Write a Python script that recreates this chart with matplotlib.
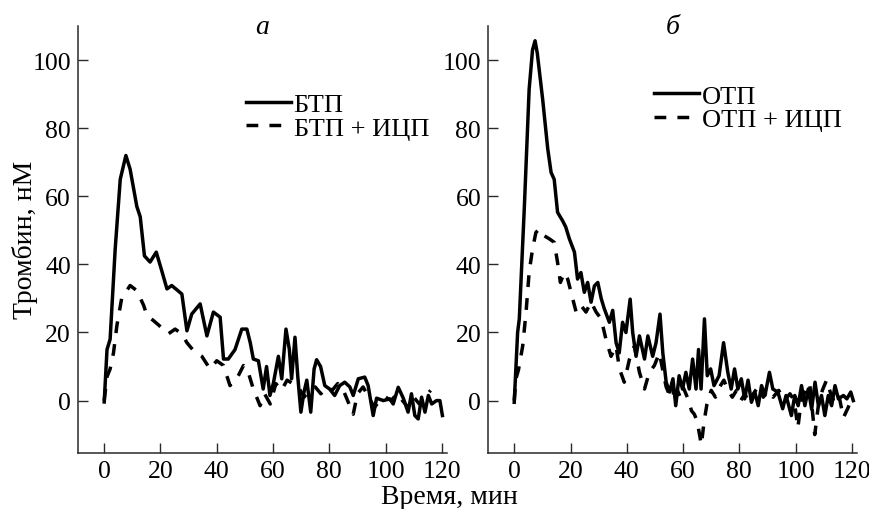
# %% IMPORTS
import matplotlib
matplotlib.use("Agg")
import matplotlib.pyplot as plt

# %% DATA
# panel a: БТП / БТП + ИЦП
A_SOLID_T = [0, 1, 2.1, 3.9, 5.7, 7.7, 9.2, 11.6, 12.8, 14.3, 16.3, 18.5, 20.5, 22.3, 24,
             27.6, 29.4, 31.1, 34.1, 36.5, 38.8, 41.2, 42.4, 44.1, 46.5, 48.9, 50.7, 51.9,
             53, 54.8, 56.5, 57.7, 58.9, 60.1, 61.9, 63.1, 64.6, 65.8, 66.6, 67.8, 68.8,
             69.9, 71, 72, 73.4, 74.6, 75.5, 76.9, 78.4, 80.1, 81.9, 83.7, 85.5, 87.3,
             88.5, 90.3, 92.6, 93.8, 95.6, 96.8, 99.2, 101.5, 102.7, 104.5, 106.3, 108,
             109.2, 110.4, 111.6, 112.8, 114, 115.2, 116.4, 118.1, 119.3, 120.2]
A_SOLID_V = [-0.4, 15, 18, 44.5, 65, 72, 68, 57, 54, 42.5, 40.7, 43.6, 38, 32.8, 33.8,
             31.3, 20.5, 25.4, 28.4, 19, 26, 24.5, 12.2, 12.2, 15, 21, 21, 17,
             12.2, 11.7, 3.4, 10, 1.5, 5, 13, 6.4, 21, 15, 6.4, 18.6, 7,
             -3.4, 2.5, 6, -3.4, 9.3, 12, 10, 4.4, 3.4, 1.5, 4.4, 5.4, 4,
             1.5, 6.4, 6.9, 4.4, -4.4, 0.7, 0, 0.5, -1, 3.9, 0.7, -3.4,
             2, -4.4, -5.4, 1, -3.4, 1.5, -1, 0, 0, -4.4]
A_DASH_T = [0, 1, 2.1, 3.3, 4.5, 6.2, 9.2, 11.6, 14, 15.2, 17.5, 21, 22.8, 25.2, 27.6,
            29.4, 31.7, 34.7, 37.6, 40, 42.4, 44.7, 47.1, 49.5, 51.2, 53, 55.4, 57, 59,
            61, 63, 65, 67, 69, 71, 73, 75, 77, 79, 81, 83, 85, 87, 88.5, 90, 92, 94,
            96, 98, 100, 102, 104, 106, 108, 110, 112, 114, 116]
A_DASH_V = [0, 7, 9.3, 14, 22, 30, 33.8, 32.3, 28, 25, 23.5, 21, 19.6, 21, 19.6,
            17, 14.7, 13, 9.3, 11.7, 10.3, 4.4, 6.4, 10.3, 8.3, 3.4, -1.5, 2, -1,
            5, 3, 6, 5, 4, 1, 3, 4, 2, 4, 3, 5, 3, -1, -4, 2, 4, 1,
            -2, 0, 1, 0, 2, 0, -2, 1, -1, 1, 3]

# panel б: ОТП / ОТП + ИЦП
B_SOLID_T = [0, 1.2, 1.8, 3.6, 5.3, 6.5, 7.4, 8.2, 10.1, 11.9, 13.1, 14.2, 15.4, 17.2,
             18.3, 19.6, 21.4, 22.5, 23.7, 24.9, 26.1, 27.3, 28.5, 29.7, 30.9, 32, 33.8,
             35, 36.2, 37.3, 38.5, 39.7, 41.2, 42.1, 43.3, 44.5, 46.3, 47.5, 49.2, 50.4,
             51.8, 52.8, 54, 55.2, 56.4, 57.4, 58.6, 59.8, 61, 62.2, 63.4, 64.6, 65.5,
             66.4, 67.6, 68.6, 69.8, 71, 72.8, 74.4, 75.9, 77.1, 78.3, 79.5, 80.7, 81.9,
             83.1, 84.3, 85.5, 86.7, 87.9, 89.1, 90.7, 91.9, 93.7, 95.4, 96.6, 98.5,
             99.7, 100.9, 102.1, 103.3, 104.5, 105.7, 106.9, 108.1, 109.2, 110.4,
             111.6, 112.8, 114, 115.2, 117, 118.2, 119.6, 120.5]
B_SOLID_V = [-0.5, 20, 24, 57, 91.5, 103, 105.7, 102, 88.5, 74, 67, 65, 55.3, 52.8,
             51, 47.5, 43.6, 35.7, 37.6, 31.8, 34.7, 28.9, 33.7, 34.7, 30, 27, 23,
             26.5, 17, 14, 23, 20, 29.8, 20, 13, 19, 12.2, 19, 13, 17,
             25.4, 14, 5.4, 2.5, 6.4, -1.5, 7.3, 3.4, 8.3, 3.4, 12.2, 3.4, 15,
             3.4, 24, 7.3, 9.3, 4.4, 7.3, 17, 8.3, 3.4, 9.3, 3.4, 6.4, 0.5,
             6, -0.5, 2.5, -1.5, 4.4, 1.5, 8.3, 3.4, 2.5, -2.4, 1.5, -4.4,
             1.5, -1.5, 4.4, -1.5, 3.4, -2.5, 5.4, -1.5, 1.5, -4.4,
             1.5, -1.5, 4.4, 0.5, 1.5, 0.5, 2.5, 0]
B_DASH_T = [0, 0.6, 1.5, 3, 4.2, 5.3, 6.5, 7.7, 8.9, 10.7, 12.5, 14.2, 15.4, 16.4, 17.8,
            19, 20.2, 22, 23.7, 25.5, 27.3, 29.1, 30.9, 32.6, 34.4, 36.2, 37.4, 39.1,
            40.9, 42.7, 44.5, 46.3, 48, 49.8, 51.6, 53, 54, 55, 56, 57, 58, 59, 60, 61,
            62, 63, 64, 65, 66.5, 67.5, 68.5, 70, 71.5, 73, 74.5, 76, 77.5, 79, 80.5,
            82, 83.5, 85, 87, 88.5, 90, 92, 94, 96, 98, 99.5, 100.8, 102, 103.5, 105,
            106.8, 108, 109.5, 111, 112.5, 114, 115.5, 117, 118.7, 120]
B_DASH_V = [0, 6.4, 9, 16, 26, 37.7, 44.5, 49.4, 50.4, 48.4, 47.5, 46.5, 40.6, 34.7, 37.6,
            35.7, 31.8, 26, 28, 26, 29, 26, 24, 18, 13, 16, 9.3, 5.4,
            12, 16, 8.3, 3.4, 8.3, 10.3, 14, 8, 4, 2, 5, 0, 3, 1, 4, 2,
            0, -3, -4, -6, -13, -6, -1, 3, 1, 4, 6, 3, 1, 3, 0,
            2, -1, 2, 4.5, 1, 3, 1, 3, 0, 2, 0, -8, 0, 3, 5,
            -10, -2, 3, 6, 2, -1, 1, -5, -2, 1]

PANEL_TITLES = ["а", "б"]
LEGEND_LABELS = [["БТП", "БТП + ИЦП"], ["ОТП", "ОТП + ИЦП"]]
X_TICKS = [0, 20, 40, 60, 80, 100, 120]
Y_TICKS = [0, 20, 40, 60, 80, 100]

# %% STYLE
plt.rcParams["font.family"] = ["Liberation Serif", "DejaVu Serif"]
FS_TICK = 18.5
FS_LABEL = 20
FS_LEGEND = 19
LW = 2.5
DASH = (0, (3.4, 3.2))
SPINE_COLOR = "#2a2a2a"

# %% FIGURE
fig = plt.figure(figsize=(8.7, 5.1), dpi=100)
axes = [fig.add_axes([0.0897, 0.1098, 0.424, 0.837]),
        fig.add_axes([0.561, 0.1098, 0.424, 0.837])]

series = [(A_SOLID_T, A_SOLID_V, A_DASH_T, A_DASH_V),
          (B_SOLID_T, B_SOLID_V, B_DASH_T, B_DASH_V)]
legend_anchor = [(0.42, 0.875), (0.415, 0.895)]

for i, ax in enumerate(axes):
    st, sv, dt, dv = series[i]
    ax.plot(st, sv, color="black", lw=LW, solid_joinstyle="round", label=LEGEND_LABELS[i][0])
    ax.plot(dt, dv, color="black", lw=LW, linestyle=DASH, label=LEGEND_LABELS[i][1])

    ax.set_xlim(-9.3, 121.8)
    ax.set_ylim(-15.4, 110)
    ax.set_xticks(X_TICKS)
    ax.set_yticks(Y_TICKS)
    ax.tick_params(direction="in", length=7, width=1, labelsize=FS_TICK, color=SPINE_COLOR, pad=5)
    for side in ["top", "right"]:
        ax.spines[side].set_visible(False)
    for side in ["left", "bottom"]:
        ax.spines[side].set_color(SPINE_COLOR)
        ax.spines[side].set_linewidth(1.1)

    ax.text(0.5, 1.0, PANEL_TITLES[i], transform=ax.transAxes, ha="center", va="center",
            fontsize=FS_LABEL, style="italic")

    ax.legend(loc="upper left", bbox_to_anchor=legend_anchor[i], frameon=False,
              fontsize=FS_LEGEND, handlelength=1.7, handletextpad=0.1,
              labelspacing=0.0, borderpad=0)

fig.text(0.029, 0.529, "Тромбин, нМ", rotation=90, ha="center", va="center", fontsize=FS_LABEL)
fig.text(0.517, 0.024, "Время, мин", ha="center", va="center", fontsize=FS_LABEL)

fig.savefig("out.png", dpi=100)
